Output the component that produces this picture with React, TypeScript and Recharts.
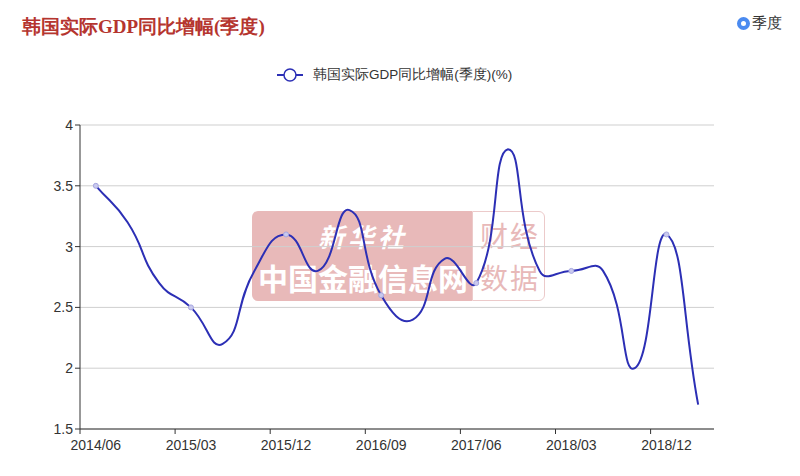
import { LineChart, Line, XAxis, YAxis, CartesianGrid } from "recharts";

const quarters = [
  "2014/06", "2014/09", "2014/12", "2015/03", "2015/06", "2015/09", "2015/12",
  "2016/03", "2016/06", "2016/09", "2016/12", "2017/03", "2017/06", "2017/09",
  "2017/12", "2018/03", "2018/06", "2018/09", "2018/12", "2019/03",
];
const growth = [
  3.5, 3.2, 2.7, 2.5, 2.2, 2.8, 3.1, 2.8, 3.3, 2.6, 2.4, 2.9, 2.7, 3.8, 2.8,
  2.8, 2.8, 2.0, 3.1, 1.7,
];
const yTicks = [1.5, 2, 2.5, 3, 3.5, 4];

const data = quarters.map((q, i) => ({ q, v: growth[i] }));

const LINE = "#2c2fb5";
const AXIS = "#333";
const FONT = '"Liberation Sans", Arial, sans-serif';

const PLOT_LEFT = 80;
const PLOT_RIGHT = 714;
const BAND = (PLOT_RIGHT - PLOT_LEFT) / quarters.length;

// smooth curve in the style of the source chart (bezier with neighbour tangents,
// control points kept inside the points' bounding box)
function smoothCurve(context: any) {
  let pts: number[][] = [];
  return {
    areaStart() {},
    areaEnd() {},
    lineStart() {
      pts = [];
    },
    point(x: number, y: number) {
      pts.push([+x, +y]);
    },
    lineEnd() {
      const n = pts.length;
      if (!n) return;
      const s = 0.5;
      const minX = Math.min(...pts.map((p) => p[0]));
      const maxX = Math.max(...pts.map((p) => p[0]));
      const minY = Math.min(...pts.map((p) => p[1]));
      const maxY = Math.max(...pts.map((p) => p[1]));
      const clamp = (v: number, a: number, b: number) => Math.max(a, Math.min(b, v));
      const cps = pts.map((p, i) => {
        const prev = pts[Math.max(i - 1, 0)];
        const next = pts[Math.min(i + 1, n - 1)];
        const vx = (next[0] - prev[0]) * s;
        const vy = (next[1] - prev[1]) * s;
        let d0 = Math.hypot(p[0] - prev[0], p[1] - prev[1]);
        let d1 = Math.hypot(next[0] - p[0], next[1] - p[1]);
        const sum = d0 + d1;
        if (sum) {
          d0 /= sum;
          d1 /= sum;
        }
        return {
          c0: [clamp(p[0] - vx * d0, minX, maxX), clamp(p[1] - vy * d0, minY, maxY)],
          c1: [clamp(p[0] + vx * d1, minX, maxX), clamp(p[1] + vy * d1, minY, maxY)],
        };
      });
      context.moveTo(pts[0][0], pts[0][1]);
      for (let i = 1; i < n; i++) {
        const a = cps[i - 1].c1;
        const b = cps[i].c0;
        context.bezierCurveTo(a[0], a[1], b[0], b[1], pts[i][0], pts[i][1]);
      }
    },
  };
}

function XTick(props: any) {
  const { x, y, index } = props;
  if (index % 3 !== 0) return null;
  const tx = x - BAND / 2;
  return (
    <g>
      <line x1={tx} y1={y - 8} x2={tx} y2={y - 3} stroke={AXIS} />
      <text x={x} y={y + 13} textAnchor="middle" fontSize={14} fill={AXIS} fontFamily={FONT}>
        {props.payload.value}
      </text>
    </g>
  );
}

function Dot(props: any) {
  const { cx, cy, index } = props;
  if (index % 3 !== 0) return <g key={index} />;
  return <circle key={index} cx={cx} cy={cy} r={2.5} fill="#c9c9ee" stroke="#a6a6e0" strokeWidth={1} />;
}

function Watermark() {
  return (
    <div style={{ position: "absolute", left: 252, top: 211, width: 293, height: 90 }}>
      <div
        style={{
          position: "absolute", left: 0, top: 0, width: 220, height: 90,
          background: "#e8b9b9", borderRadius: "6px 0 0 6px",
        }}
      />
      <div
        style={{
          position: "absolute", left: 220, top: 0, width: 71, height: 88,
          border: "1px solid #eccaca", borderRadius: "0 6px 6px 0",
        }}
      />
      <div style={{ position: "absolute", left: 66, top: 6, color: "#fff", fontSize: 26, fontStyle: "italic", fontWeight: 700, fontFamily: '"Noto Sans CJK SC"', letterSpacing: 4 }}>
        新华社
      </div>
      <div style={{ position: "absolute", left: 6, top: 48, color: "#fff", fontSize: 30, fontWeight: 700, fontFamily: '"Noto Sans CJK SC"', lineHeight: "36px" }}>
        中国金融信息网
      </div>
      <div style={{ position: "absolute", left: 228, top: 6, color: "#e8b9b9", fontSize: 28, fontFamily: '"Noto Sans CJK SC"', lineHeight: "36px", letterSpacing: 2 }}>
        财经
      </div>
      <div style={{ position: "absolute", left: 228, top: 48, color: "#e8b9b9", fontSize: 28, fontFamily: '"Noto Sans CJK SC"', lineHeight: "36px", letterSpacing: 2 }}>
        数据
      </div>
    </div>
  );
}

export default function App() {
  return (
    <div style={{ position: "absolute", left: 0, top: 0, width: 800, height: 476, background: "#fff", overflow: "hidden" }}>
      <div
        style={{
          position: "absolute", left: 22, top: 14, fontSize: 19, fontWeight: 700,
          color: "#b5352f", fontFamily: "serif", whiteSpace: "nowrap",
        }}
      >
        韩国实际GDP同比增幅(季度)
      </div>
      <div style={{ position: "absolute", left: 737, top: 14, display: "flex", alignItems: "center" }}>
        <span
          style={{
            width: 5, height: 5, borderRadius: "50%", border: "4.5px solid #4a8af0",
            background: "#fff", display: "inline-block",
          }}
        />
        <span style={{ marginLeft: 2, fontSize: 15, color: "#333", fontFamily: "serif" }}>季度</span>
      </div>
      <div style={{ position: "absolute", left: 277, top: 66, display: "flex", alignItems: "center" }}>
        <svg width={26} height={16}>
          <line x1={0} y1={8} x2={26} y2={8} stroke={LINE} strokeWidth={2} />
          <circle cx={13} cy={8} r={6} fill="#fff" stroke={LINE} strokeWidth={1.5} />
        </svg>
        <span style={{ marginLeft: 10, fontSize: 13.5, color: "#333", fontFamily: FONT }}>
          韩国实际GDP同比增幅(季度)(%)
        </span>
      </div>
      <Watermark />
      <div style={{ position: "absolute", left: 0, top: 0 }}>
        <LineChart width={800} height={476} data={data} margin={{ top: 125, right: 86, bottom: 17, left: 30 }}>
          <CartesianGrid vertical={false} stroke="#cfcfcf" />
          <XAxis
            dataKey="q"
            interval={0}
            padding={{ left: BAND / 2, right: BAND / 2 }}
            tick={<XTick />}
            tickLine={false}
            axisLine={{ stroke: AXIS }}
            height={30}
          />
          <YAxis
            domain={[1.5, 4]}
            ticks={yTicks}
            width={50}
            axisLine={{ stroke: AXIS }}
            tickLine={{ stroke: AXIS }}
            tickSize={5}
            tick={{ fontSize: 14, fill: AXIS, fontFamily: FONT }}
          />
          <Line
            type={smoothCurve as any}
            dataKey="v"
            stroke={LINE}
            strokeWidth={2}
            dot={<Dot />}
            activeDot={false}
            isAnimationActive={false}
          />
        </LineChart>
      </div>
    </div>
  );
}
